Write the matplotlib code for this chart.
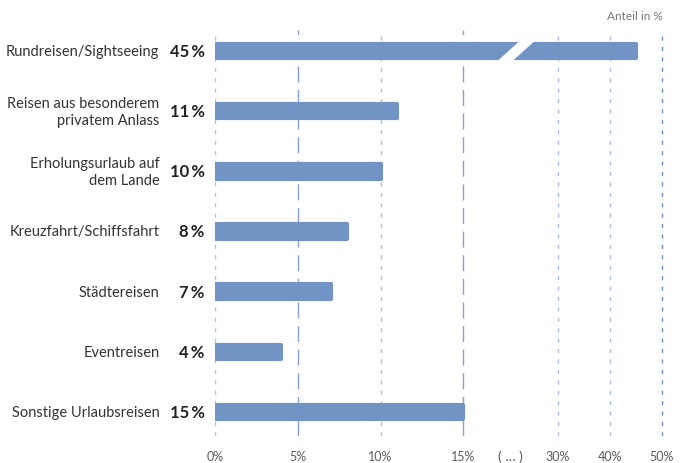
import numpy as np
import matplotlib
matplotlib.use("Agg")
import matplotlib.pyplot as plt
from matplotlib.patches import Polygon

plt.rcParams['font.family'] = ['Lato', 'DejaVu Sans']
plt.rcParams['lines.scale_dashes'] = False

# ---- data ----
categories = ['Rundreisen/Sightseeing', 'Reisen aus besonderem\nprivatem Anlass',
              'Erholungsurlaub auf\ndem Lande', 'Kreuzfahrt/Schiffsfahrt',
              'Städtereisen', 'Eventreisen', 'Sonstige Urlaubsreisen']
shares = [45, 11, 10, 8, 7, 4, 15]
tick_values = [0, 5, 10, 15, 22.5, 30, 40, 50]
tick_labels = ['0%', '5%', '10%', '15%', '( … )', '30%', '40%', '50%']
grid_values = [0, 5, 10, 15, 30, 40, 50]

bar_color = '#7294c4'

# broken axis: 0-15 full scale, 15-30 squeezed, 30-50 compressed
k1 = 5.72 / 15
k2 = 0.313


def fwd(x):
    x = np.asarray(x, dtype=float)
    return np.where(x <= 15, x,
                    np.where(x <= 30, 15 + (x - 15) * k1,
                             15 + 15 * k1 + (x - 30) * k2))


def inv(s):
    s = np.asarray(s, dtype=float)
    b = 15 + 15 * k1
    return np.where(s <= 15, s,
                    np.where(s <= b, 15 + (s - 15) / k1,
                             30 + (s - b) / k2))


fig = plt.figure(figsize=(6.82, 4.64), dpi=100)
ax = fig.add_axes([215 / 682, 1 - 437 / 464, (667 - 215) / 682, (437 - 31) / 464])
ax.set_xscale('function', functions=(fwd, inv))
ax.set_xlim(0, 51)
ax.set_ylim(6.4, -0.35)

# gridlines
for v in grid_values:
    if v in (5, 15):
        ax.axvline(v, color='#86a1ce', lw=1.0, dashes=(11.5, 5.5), zorder=0)
    elif v == 50:
        ax.axvline(v, color='#7591c2', lw=1.0, dashes=(3, 4.5), zorder=0)
    else:
        ax.axvline(v, color='#adc1df', lw=1.0, dashes=(3, 4.5), zorder=0)

y = np.arange(len(categories))
ax.barh(y, shares, height=0.24, color=bar_color, edgecolor=bar_color,
        lw=3, joinstyle='round', zorder=2)

# break marker on the long bar
gap = Polygon([[18.76, 0.32], [21.14, 0.32], [27.9, -0.32], [25.5, -0.32]],
              closed=True, facecolor='white', edgecolor='none', zorder=3)
ax.add_patch(gap)

for i, (cat, val) in enumerate(zip(categories, shares)):
    ax.annotate(f'{val}\u2009%', xy=(0, i), xytext=(-7.5, 0), textcoords='offset points',
                ha='right', va='center', fontsize=12, fontweight='bold', color='#222222')
    ax.annotate(cat, xy=(0, i), xytext=(-40, 0), textcoords='offset points',
                ha='right', va='center', fontsize=10.5, color='#333333',
                linespacing=1.25, multialignment='right')

ax.set_xticks(tick_values)
ax.set_xticklabels(tick_labels)
ax.xaxis.set_minor_locator(matplotlib.ticker.NullLocator())
ax.tick_params(axis='x', length=0, pad=10, labelsize=9, labelcolor='#5a5a5a')
ax.get_xticklabels()[4].set_fontsize(10)
ax.set_yticks([])
for s in ax.spines.values():
    s.set_visible(False)

fig.text(663 / 682, 1 - 16 / 464, 'Anteil in %', ha='right', va='center',
         fontsize=8.5, color='#777777')

fig.savefig('out.png', dpi=100)
